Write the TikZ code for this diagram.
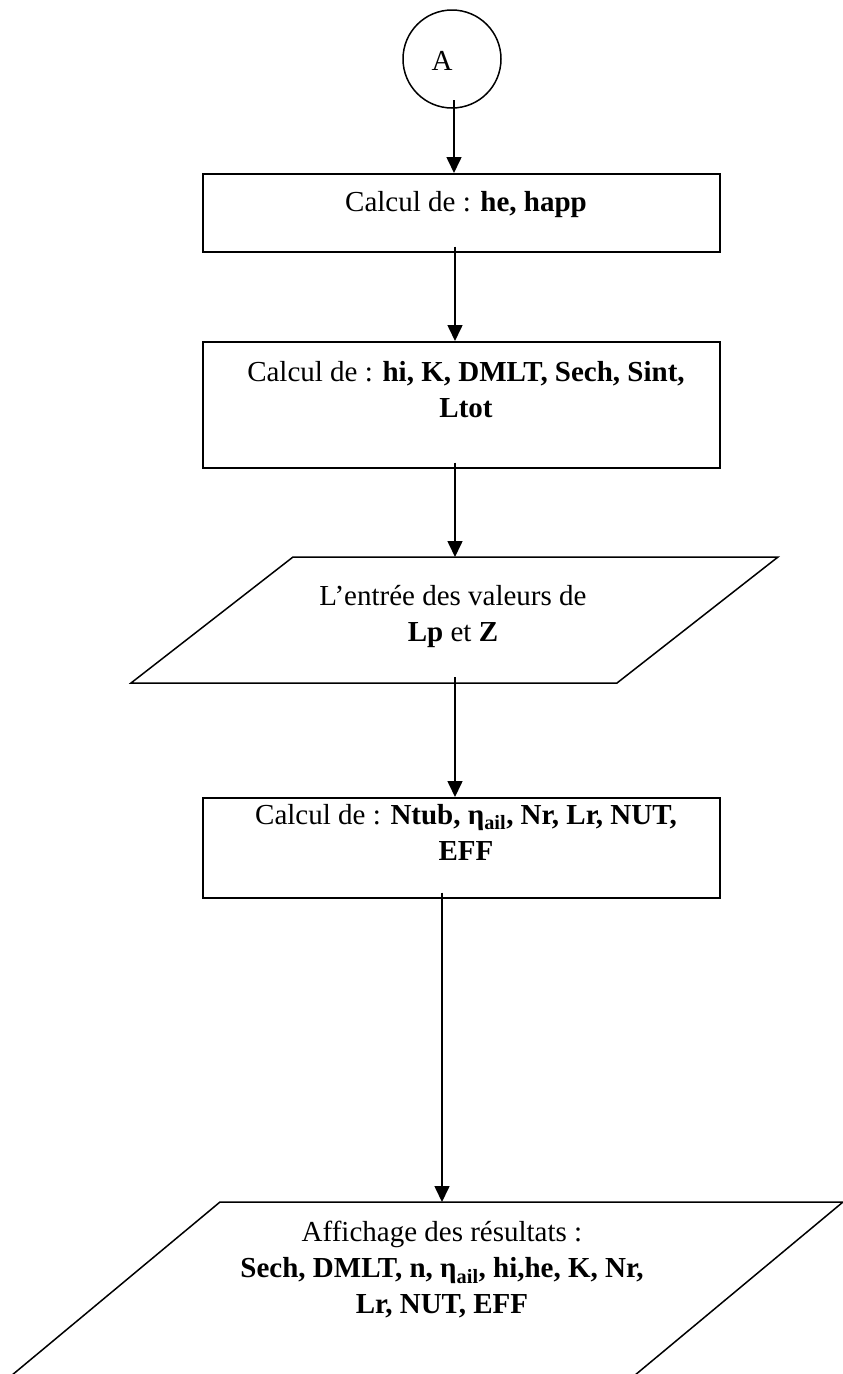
\documentclass[tikz,border=0pt]{standalone}
\usepackage{fontspec}
\setmainfont{Liberation Serif}
\usetikzlibrary{arrows.meta,calc}
\begin{document}
\begin{tikzpicture}[x=1pt,y=-1pt,
  procbox/.style={draw, line width=1.7pt, minimum width=517pt, inner sep=0pt, anchor=north west},
  iobox/.style={draw, line width=1.5pt, line join=miter},
  txt/.style={font=\fontsize{29}{36}\selectfont, align=center, inner sep=0pt},
  conn/.style={line width=1.6pt, -{Triangle[length=16pt,width=15pt]}}]
\useasboundingbox (0,0) rectangle (843,1374);
\clip (0,0) rectangle (843,1374);

% connector start
\node[draw, circle, line width=1.5pt, minimum size=98pt, inner sep=0pt] (a) at (452,59) {};
\node[txt] (aA) at (442,61) {A};
\coordinate (axisA) at (454,100);

% processing boxes
\node[procbox, minimum height=78pt] (b1) at (202,173) {};
\node[txt] (t1) at (466,205) {Calcul de : \textbf{he, happ}};

\node[procbox, minimum height=126pt] (b2) at (202,341) {};
\node[txt] (t2) at (466,390) {Calcul de : \textbf{hi, K, DMLT, Sech, Sint,}\\\textbf{Ltot}};

% data input
\coordinate (p1n) at (455,557);
\coordinate (p1s) at (455,683);
\draw[iobox] (293,557) -- (778,557) -- (617,683) -- (131,683) -- cycle;
\node[txt] (t3) at (453,616) {L’entrée des valeurs de\\\textbf{Lp} et \textbf{Z}};

\node[procbox, minimum height=100pt] (b3) at (202,797) {};
\node[txt] (t4) at (466,832) {Calcul de : \textbf{Ntub, η\textsubscript{ail}, Nr, Lr, NUT,}\\\textbf{EFF}};

% results output
\coordinate (p2n) at (442,1202);
\draw[iobox] (220,1202) -- (843,1202) -- (545,1450) -- (-78,1450) -- cycle;
\node[txt] (t5) at (442,1270) {Affichage des résultats :\\\textbf{Sech, DMLT, n, η\textsubscript{ail}, hi,he, K, Nr,}\\\textbf{Lr, NUT, EFF}};

% connectors
\draw[conn] (axisA) -- (axisA |- b1.north);
\draw[conn] ($(b1.south -| p1n)+(0,-6)$) -- (b2.north -| p1n);
\draw[conn] ($(b2.south -| p1n)+(0,-6)$) -- (p1n);
\draw[conn] ($(p1s)+(0,-6)$) -- (b3.north -| p1s);
\draw[conn] ($(b3.south -| p2n)+(0,-6)$) -- (p2n);
\end{tikzpicture}
\end{document}
